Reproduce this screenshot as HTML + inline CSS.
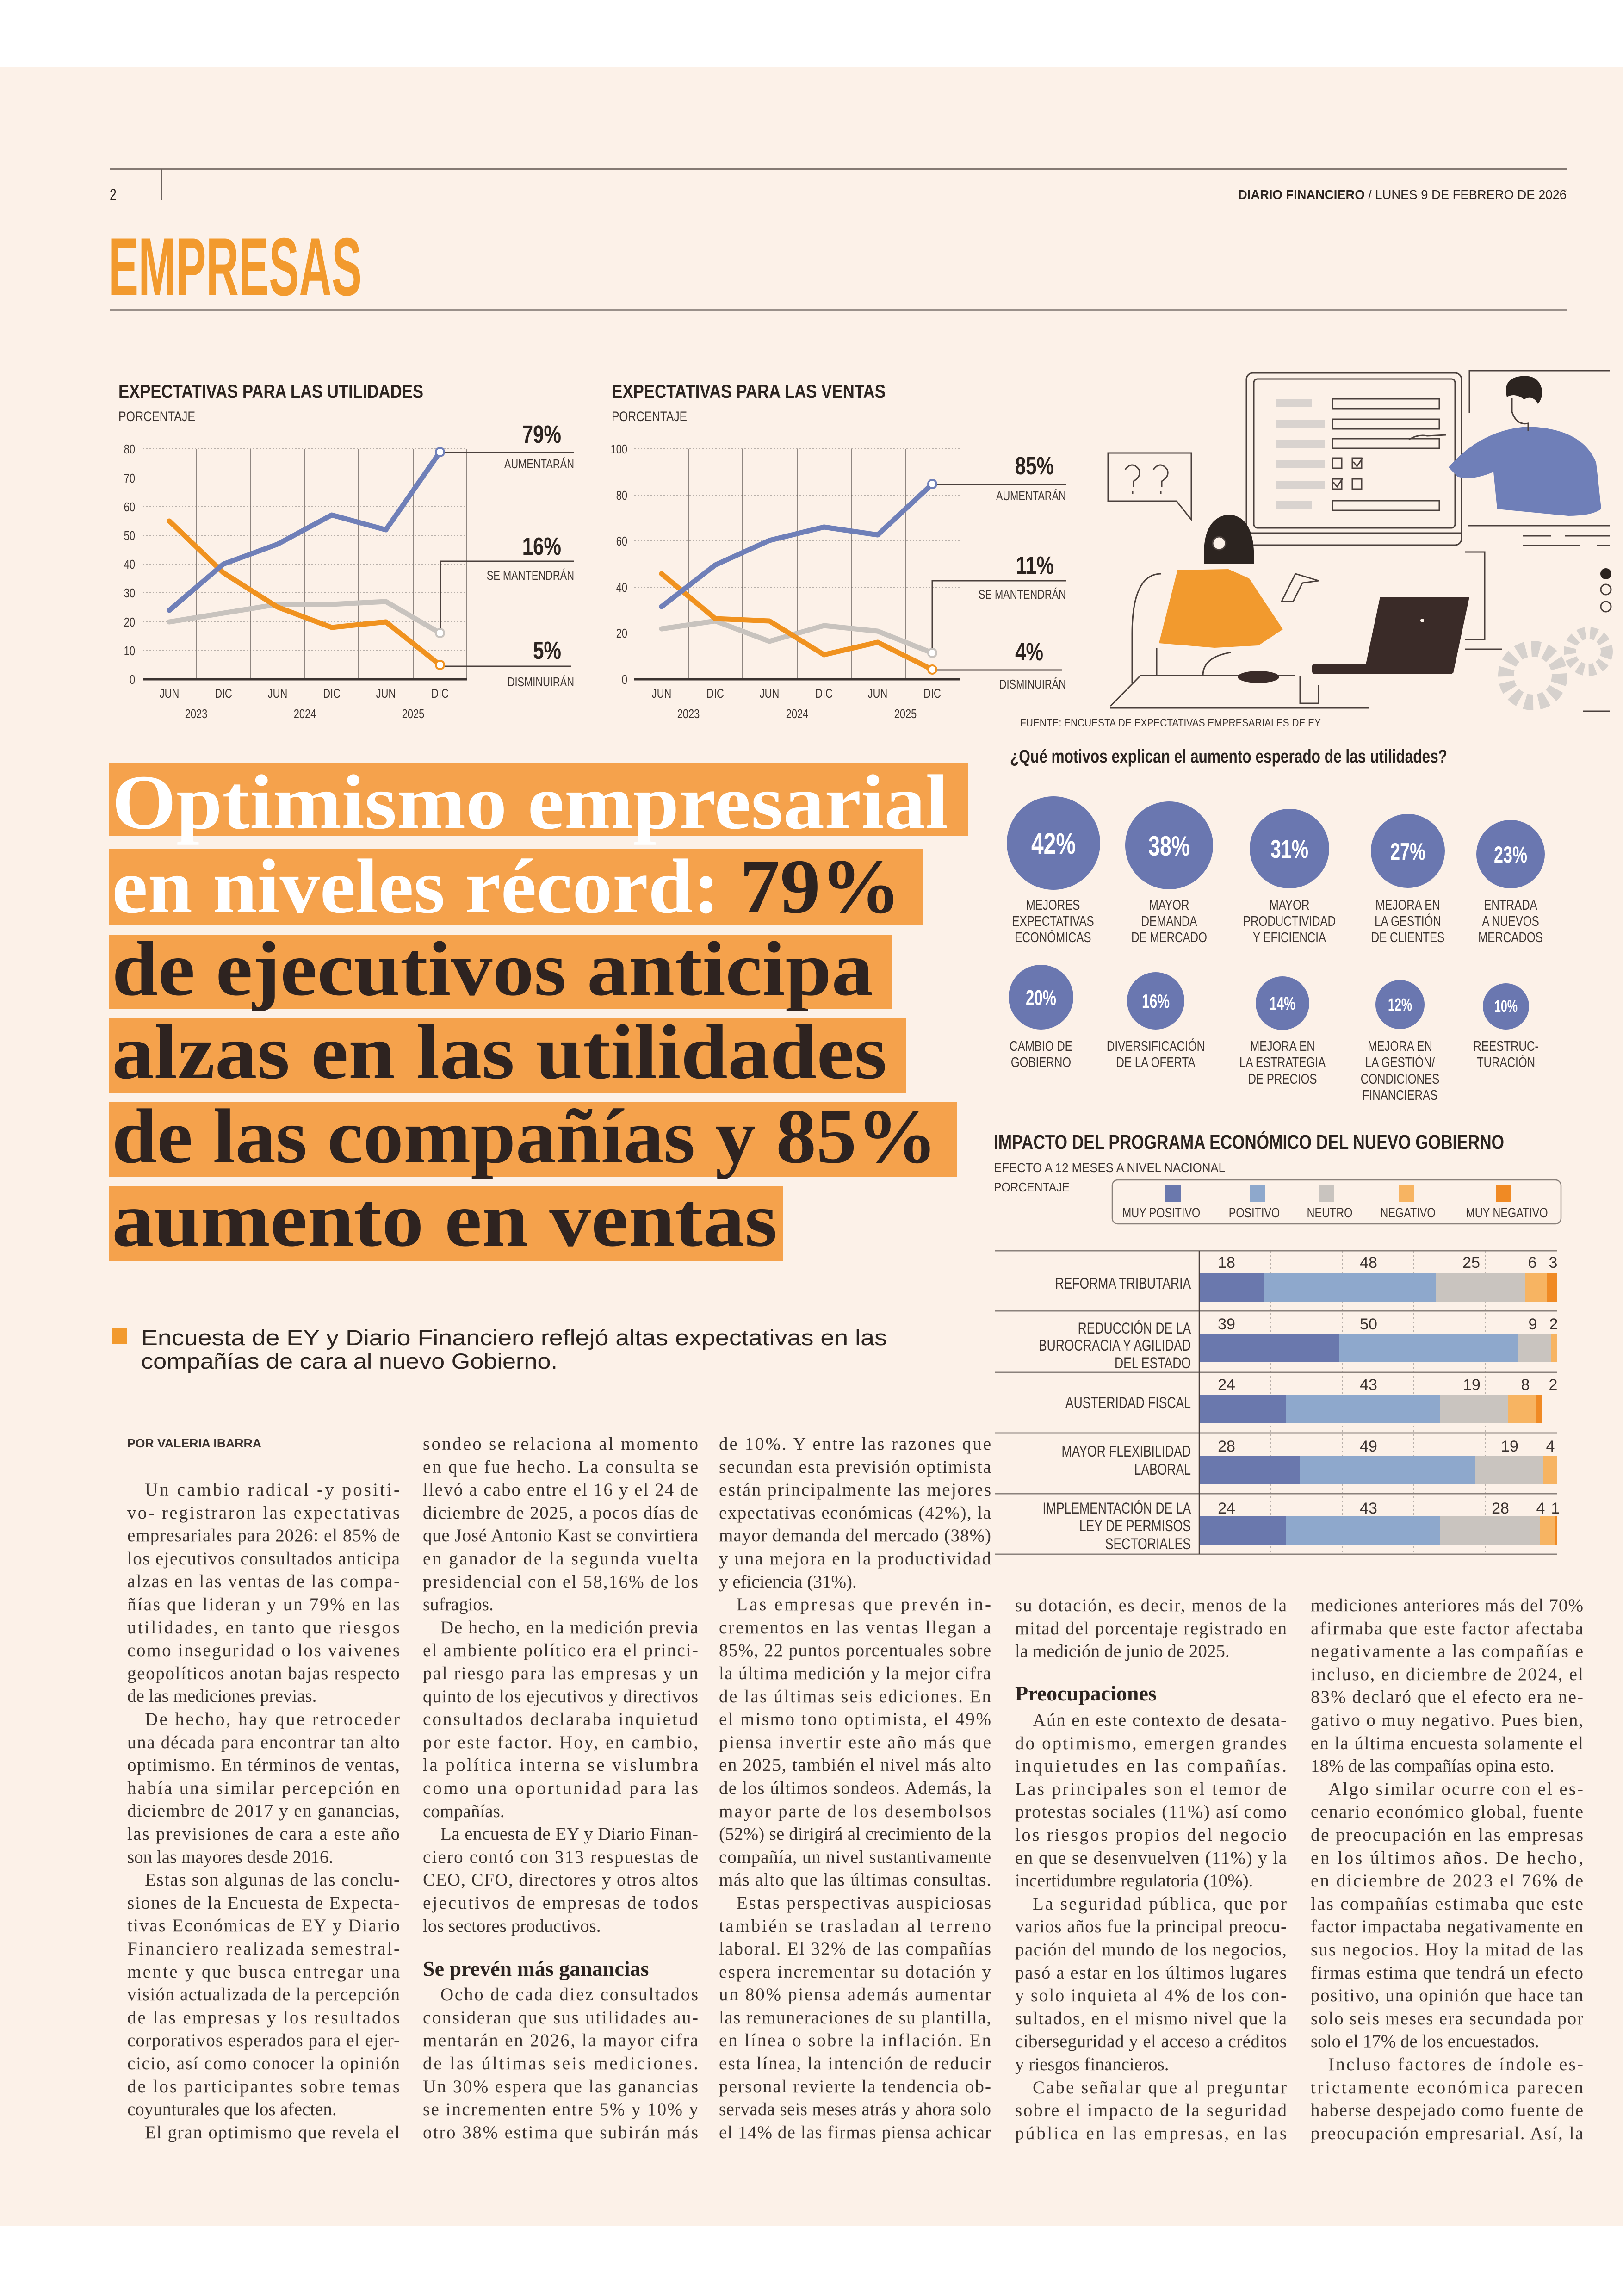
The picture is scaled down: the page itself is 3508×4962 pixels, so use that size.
<!DOCTYPE html>
<html><head><meta charset="utf-8">
<style>
html,body{margin:0;padding:0;background:#fff;}
svg{display:block;}
.s{font-family:"Liberation Sans",sans-serif;}
.b{font-family:"Liberation Serif",serif;font-size:39px;fill:#3b3330;}
.cm{transform-box:fill-box;transform-origin:center;transform:scaleX(.78);}
.cl{transform-box:fill-box;transform-origin:left;transform:scaleX(.78);}
.cr{transform-box:fill-box;transform-origin:right;transform:scaleX(.78);}
</style></head><body>
<svg width="3508" height="4962" viewBox="0 0 3508 4962" xmlns="http://www.w3.org/2000/svg">
<rect x="0" y="0" width="3508" height="4962" fill="#fff"/>
<rect x="0" y="145" width="3508" height="4665" fill="#fcf1e8"/>

<!-- header -->
<rect x="237" y="362" width="3149" height="5" fill="#857a73"/>
<line x1="350" y1="366" x2="350" y2="432" stroke="#6b625d" stroke-width="2"/>
<text x="237" y="432" class="s cl" font-size="34" fill="#2c2420">2</text>
<text x="3386" y="430" class="s" font-size="28" fill="#2c2420" text-anchor="end" textLength="710" lengthAdjust="spacingAndGlyphs"><tspan font-weight="bold">DIARIO FINANCIERO</tspan> / LUNES 9 DE FEBRERO DE 2026</text>
<text x="234" y="638" class="s" font-size="178" font-weight="bold" fill="#f29a2e" textLength="548" lengthAdjust="spacingAndGlyphs">EMPRESAS</text>
<rect x="237" y="668" width="3149" height="5" fill="#9a908a"/>

<!-- CHART 1 -->
<text x="256" y="860" class="s" font-size="42" font-weight="bold" fill="#2c2420" textLength="659" lengthAdjust="spacingAndGlyphs">EXPECTATIVAS PARA LAS UTILIDADES</text>
<text x="256" y="910" class="s" font-size="30" fill="#3b3330" textLength="166" lengthAdjust="spacingAndGlyphs">PORCENTAJE</text>
<g stroke="#b8b0aa" stroke-width="2" stroke-dasharray="3 4">
<line x1="309" y1="970" x2="1009" y2="970"/><line x1="309" y1="1033" x2="1009" y2="1033"/><line x1="309" y1="1095" x2="1009" y2="1095"/><line x1="309" y1="1157" x2="1009" y2="1157"/><line x1="309" y1="1219" x2="1009" y2="1219"/><line x1="309" y1="1281" x2="1009" y2="1281"/><line x1="309" y1="1344" x2="1009" y2="1344"/><line x1="309" y1="1406" x2="1009" y2="1406"/>
</g>
<g stroke="#6b625d" stroke-width="1.5">
<line x1="424" y1="970" x2="424" y2="1468"/><line x1="541" y1="970" x2="541" y2="1468"/><line x1="659" y1="970" x2="659" y2="1468"/><line x1="775" y1="970" x2="775" y2="1468"/><line x1="893" y1="970" x2="893" y2="1468"/><line x1="1009" y1="970" x2="1009" y2="1468"/>
</g>
<line x1="309" y1="1468" x2="1009" y2="1468" stroke="#3b3330" stroke-width="5"/>
<g class="s" font-size="28" fill="#3b3330" text-anchor="end">
<text x="292" y="980" class="cr">80</text><text x="292" y="1043" class="cr">70</text><text x="292" y="1105" class="cr">60</text><text x="292" y="1167" class="cr">50</text><text x="292" y="1229" class="cr">40</text><text x="292" y="1291" class="cr">30</text><text x="292" y="1354" class="cr">20</text><text x="292" y="1416" class="cr">10</text><text x="292" y="1478" class="cr">0</text>
</g>
<g class="s" font-size="28" fill="#3b3330" text-anchor="middle">
<text x="366" y="1508" class="cm">JUN</text><text x="483" y="1508" class="cm">DIC</text><text x="600" y="1508" class="cm">JUN</text><text x="717" y="1508" class="cm">DIC</text><text x="834" y="1508" class="cm">JUN</text><text x="951" y="1508" class="cm">DIC</text>
<text x="424" y="1552" class="cm">2023</text><text x="659" y="1552" class="cm">2024</text><text x="893" y="1552" class="cm">2025</text>
</g>
<g fill="none" stroke-width="11" stroke-linejoin="round" stroke-linecap="round">
<polyline stroke="#c8c3be" points="366,1344 483,1325 600,1306 717,1306 834,1300 951,1368"/>
<polyline stroke="#f0921f" points="366,1126 483,1238 600,1312 717,1356 834,1344 951,1437"/>
<polyline stroke="#6f7fb8" points="366,1319 483,1219 600,1176 717,1113 834,1145 951,977"/>
</g>
<g stroke="#4a403c" stroke-width="3" fill="none">
<polyline points="951,978 1241,978"/>
<polyline points="952,1368 952,1213 1241,1213"/>
<polyline points="951,1440 1235,1440"/>
</g>
<circle cx="951" cy="977" r="9" fill="#fff" stroke="#6f7fb8" stroke-width="4"/>
<circle cx="951" cy="1368" r="9" fill="#fff" stroke="#c8c3be" stroke-width="4"/>
<circle cx="951" cy="1437" r="9" fill="#fff" stroke="#f0921f" stroke-width="4"/>
<g class="s" font-weight="bold" fill="#2c2420" text-anchor="end">
<text x="1213" y="957" font-size="54" class="cr">79%</text>
<text x="1213" y="1199" font-size="54" class="cr">16%</text>
<text x="1213" y="1424" font-size="54" class="cr">5%</text>
</g>
<g class="s" font-size="28" fill="#3b3330" text-anchor="end">
<text x="1241" y="1012" class="cr">AUMENTARÁN</text>
<text x="1241" y="1253" class="cr">SE MANTENDRÁN</text>
<text x="1241" y="1483" class="cr">DISMINUIRÁN</text>
</g>

<!-- CHART 2 -->
<text x="1322" y="860" class="s" font-size="42" font-weight="bold" fill="#2c2420" textLength="592" lengthAdjust="spacingAndGlyphs">EXPECTATIVAS PARA LAS VENTAS</text>
<text x="1322" y="910" class="s" font-size="30" fill="#3b3330" textLength="163" lengthAdjust="spacingAndGlyphs">PORCENTAJE</text>
<g stroke="#b8b0aa" stroke-width="2" stroke-dasharray="3 4">
<line x1="1371" y1="970" x2="2075" y2="970"/><line x1="1371" y1="1070" x2="2075" y2="1070"/><line x1="1371" y1="1169" x2="2075" y2="1169"/><line x1="1371" y1="1269" x2="2075" y2="1269"/><line x1="1371" y1="1368" x2="2075" y2="1368"/>
</g>
<g stroke="#6b625d" stroke-width="1.5">
<line x1="1488" y1="970" x2="1488" y2="1468"/><line x1="1605" y1="970" x2="1605" y2="1468"/><line x1="1723" y1="970" x2="1723" y2="1468"/><line x1="1841" y1="970" x2="1841" y2="1468"/><line x1="1957" y1="970" x2="1957" y2="1468"/><line x1="2075" y1="970" x2="2075" y2="1468"/>
</g>
<line x1="1371" y1="1468" x2="2075" y2="1468" stroke="#3b3330" stroke-width="5"/>
<g class="s" font-size="28" fill="#3b3330" text-anchor="end">
<text x="1356" y="980" class="cr">100</text><text x="1356" y="1080" class="cr">80</text><text x="1356" y="1179" class="cr">60</text><text x="1356" y="1279" class="cr">40</text><text x="1356" y="1378" class="cr">20</text><text x="1356" y="1478" class="cr">0</text>
</g>
<g class="s" font-size="28" fill="#3b3330" text-anchor="middle">
<text x="1430" y="1508" class="cm">JUN</text><text x="1546" y="1508" class="cm">DIC</text><text x="1663" y="1508" class="cm">JUN</text><text x="1781" y="1508" class="cm">DIC</text><text x="1897" y="1508" class="cm">JUN</text><text x="2015" y="1508" class="cm">DIC</text>
<text x="1488" y="1552" class="cm">2023</text><text x="1723" y="1552" class="cm">2024</text><text x="1957" y="1552" class="cm">2025</text>
</g>
<g fill="none" stroke-width="11" stroke-linejoin="round" stroke-linecap="round">
<polyline stroke="#c8c3be" points="1430,1359 1546,1342 1663,1386 1781,1352 1897,1364 2015,1411"/>
<polyline stroke="#f0921f" points="1430,1240 1546,1337 1663,1342 1781,1415 1897,1388 2015,1447"/>
<polyline stroke="#6f7fb8" points="1430,1311 1546,1221 1663,1168 1781,1139 1897,1156 2015,1046"/>
</g>
<g stroke="#4a403c" stroke-width="3" fill="none">
<polyline points="2015,1047 2304,1047"/>
<polyline points="2015,1411 2015,1255 2304,1255"/>
<polyline points="2015,1448 2296,1448"/>
</g>
<circle cx="2015" cy="1046" r="9" fill="#fff" stroke="#6f7fb8" stroke-width="4"/>
<circle cx="2015" cy="1411" r="9" fill="#fff" stroke="#c8c3be" stroke-width="4"/>
<circle cx="2015" cy="1447" r="9" fill="#fff" stroke="#f0921f" stroke-width="4"/>
<g class="s" font-weight="bold" fill="#2c2420" text-anchor="end">
<text x="2278" y="1025" font-size="54" class="cr">85%</text>
<text x="2278" y="1240" font-size="54" class="cr">11%</text>
<text x="2255" y="1427" font-size="54" class="cr">4%</text>
</g>
<g class="s" font-size="28" fill="#3b3330" text-anchor="end">
<text x="2304" y="1081" class="cr">AUMENTARÁN</text>
<text x="2304" y="1294" class="cr">SE MANTENDRÁN</text>
<text x="2304" y="1488" class="cr">DISMINUIRÁN</text>
</g>

<!-- ILLUSTRATION -->
<g fill="none" stroke="#4a403c" stroke-width="3">
<rect x="2694" y="806" width="465" height="372" rx="14"/>
<rect x="2710" y="819" width="435" height="322" rx="8"/>
<line x1="2694" y1="1152" x2="3159" y2="1152"/>
<polyline points="3176,892 3176,801 3480,801"/>
<line x1="3172" y1="1136" x2="3480" y2="1136"/>
<line x1="3292" y1="1158" x2="3352" y2="1158"/><line x1="3382" y1="1158" x2="3480" y2="1158"/>
<line x1="3292" y1="1179" x2="3415" y2="1179"/><line x1="3452" y1="1179" x2="3480" y2="1179"/>
<polyline points="3167,1193 3209,1193 3209,1382 3167,1382"/>
<line x1="3167" y1="1403" x2="3247" y2="1403"/>
<line x1="3422" y1="1537" x2="3480" y2="1537"/>
<path d="M2395 979 H2575 V1123 L2543 1083 H2395 Z"/>
<path d="M2432 1015 q15 -20 30 0 q5 15 -12 25 v12 M2448 1062 v6"/>
<path d="M2493 1015 q15 -20 30 0 q5 15 -12 25 v12 M2509 1062 v6"/>
<rect x="2880" y="862" width="231" height="21"/><rect x="2880" y="906" width="231" height="21"/><rect x="2880" y="948" width="231" height="21"/><rect x="2880" y="1082" width="231" height="21"/>
<rect x="2880" y="990" width="20" height="22"/><rect x="2923" y="990" width="20" height="22"/>
<rect x="2880" y="1035" width="20" height="22"/><rect x="2923" y="1035" width="20" height="22"/>
<path d="M2925 998 l8 10 l12 -18 M2882 1042 l8 10 l12 -18"/>
<path d="M2447 1475 V1370 Q2447 1240 2510 1240 M2400 1526 L2465 1460 H2800 M2810 1460 v60 h40 v-40 M2500 1460 v-60 M2600 1460 q0 -40 60 -50 M2770 1300 l30 -60 l50 15 -35 5 l-20 40 Z"/>
<line x1="2400" y1="1530" x2="2960" y2="1530"/>
</g>
<g fill="#d9d3cf">
<rect x="2759" y="862" width="76" height="18"/><rect x="2759" y="907" width="105" height="18"/><rect x="2759" y="950" width="105" height="18"/><rect x="2759" y="994" width="105" height="18"/><rect x="2759" y="1039" width="105" height="18"/><rect x="2759" y="1083" width="76" height="18"/>
</g>
<path d="M3131 1010 Q3200 930 3300 922 Q3420 925 3450 1000 L3461 1100 Q3440 1115 3390 1115 L3236 1100 L3228 1020 Q3180 1040 3150 1030 Z" fill="#6f7fb8"/>
<path d="M3257 858 q-10 -40 30 -45 q45 -5 47 40 q-5 15 -10 20 q-10 -20 -30 -10 q-20 -15 -37 -5Z" fill="#2c2420"/>
<path d="M3268 860 v30 q10 30 35 25 v16" fill="none" stroke="#4a403c" stroke-width="3"/>
<path d="M3045 950 q20 -12 40 -8 l40 -2" fill="none" stroke="#4a403c" stroke-width="3"/>
<path d="M2603 1219 Q2595 1120 2655 1112 Q2715 1115 2710 1219 Z" fill="#2c2420"/>
<circle cx="2635" cy="1174" r="14" fill="#fcf1e8" stroke="#4a403c" stroke-width="3"/>
<path d="M2545 1232 L2655 1230 L2700 1250 L2773 1360 L2720 1395 L2625 1400 L2505 1390 Z" fill="#f29a2e"/>
<path d="M2983 1290 H3176 L3141 1455 H2948 Z" fill="#3a2b28"/>
<rect x="2836" y="1434" width="305" height="23" rx="6" fill="#3a2b28"/>
<ellipse cx="2720" cy="1463" rx="45" ry="13" fill="#3a2b28"/>
<circle cx="3074" cy="1341" r="4" fill="#fcf1e8"/>
<circle cx="3471" cy="1240" r="12" fill="#2c2420"/>
<circle cx="3471" cy="1274" r="11" fill="none" stroke="#4a403c" stroke-width="3"/>
<circle cx="3471" cy="1311" r="11" fill="none" stroke="#4a403c" stroke-width="3"/>
<circle cx="3313" cy="1460" r="58" fill="none" stroke="#d6d1cd" stroke-width="34" stroke-dasharray="18 12"/>
<circle cx="3433" cy="1408" r="40" fill="none" stroke="#d6d1cd" stroke-width="26" stroke-dasharray="14 10"/>
<text x="2205" y="1570" class="s" font-size="24" fill="#3b3330" textLength="650" lengthAdjust="spacingAndGlyphs">FUENTE: ENCUESTA DE EXPECTATIVAS EMPRESARIALES DE EY</text>

<!-- MOTIVOS -->
<text x="2183" y="1648" class="s" font-size="40" font-weight="bold" fill="#2c2420" textLength="945" lengthAdjust="spacingAndGlyphs">¿Qué motivos explican el aumento esperado de las utilidades?</text>
<g fill="#6a77b0">
<circle cx="2277" cy="1822" r="101"/><circle cx="2527" cy="1827" r="95"/><circle cx="2787" cy="1834" r="86"/><circle cx="3043" cy="1839" r="80"/><circle cx="3265" cy="1846" r="74"/>
<circle cx="2250" cy="2155" r="70"/><circle cx="2498" cy="2163" r="62"/><circle cx="2772" cy="2168" r="58"/><circle cx="3026" cy="2171" r="53"/><circle cx="3255" cy="2175" r="50"/>
</g>
<g class="s" font-weight="bold" fill="#fff" text-anchor="middle">
<text x="2277" y="1845" font-size="64" textLength="96" lengthAdjust="spacingAndGlyphs">42%</text>
<text x="2527" y="1849" font-size="60" textLength="90" lengthAdjust="spacingAndGlyphs">38%</text>
<text x="2787" y="1854" font-size="56" textLength="82" lengthAdjust="spacingAndGlyphs">31%</text>
<text x="3043" y="1858" font-size="52" textLength="76" lengthAdjust="spacingAndGlyphs">27%</text>
<text x="3265" y="1864" font-size="50" textLength="72" lengthAdjust="spacingAndGlyphs">23%</text>
<text x="2250" y="2172" font-size="46" textLength="66" lengthAdjust="spacingAndGlyphs">20%</text>
<text x="2498" y="2178" font-size="42" textLength="60" lengthAdjust="spacingAndGlyphs">16%</text>
<text x="2772" y="2182" font-size="40" textLength="56" lengthAdjust="spacingAndGlyphs">14%</text>
<text x="3026" y="2184" font-size="38" textLength="52" lengthAdjust="spacingAndGlyphs">12%</text>
<text x="3255" y="2187" font-size="36" textLength="50" lengthAdjust="spacingAndGlyphs">10%</text>
</g>
<g class="s" font-size="31" fill="#3b3330" text-anchor="middle">
<text x="2276" y="1966" class="cm">MEJORES</text><text x="2276" y="2001" class="cm">EXPECTATIVAS</text><text x="2276" y="2036" class="cm">ECONÓMICAS</text>
<text x="2527" y="1966" class="cm">MAYOR</text><text x="2527" y="2001" class="cm">DEMANDA</text><text x="2527" y="2036" class="cm">DE MERCADO</text>
<text x="2787" y="1966" class="cm">MAYOR</text><text x="2787" y="2001" class="cm">PRODUCTIVIDAD</text><text x="2787" y="2036" class="cm">Y EFICIENCIA</text>
<text x="3043" y="1966" class="cm">MEJORA EN</text><text x="3043" y="2001" class="cm">LA GESTIÓN</text><text x="3043" y="2036" class="cm">DE CLIENTES</text>
<text x="3265" y="1966" class="cm">ENTRADA</text><text x="3265" y="2001" class="cm">A NUEVOS</text><text x="3265" y="2036" class="cm">MERCADOS</text>
<text x="2250" y="2271" class="cm">CAMBIO DE</text><text x="2250" y="2306" class="cm">GOBIERNO</text>
<text x="2498" y="2271" class="cm">DIVERSIFICACIÓN</text><text x="2498" y="2306" class="cm">DE LA OFERTA</text>
<text x="2772" y="2271" class="cm">MEJORA EN</text><text x="2772" y="2306" class="cm">LA ESTRATEGIA</text><text x="2772" y="2342" class="cm">DE PRECIOS</text>
<text x="3026" y="2271" class="cm">MEJORA EN</text><text x="3026" y="2306" class="cm">LA GESTIÓN/</text><text x="3026" y="2342" class="cm">CONDICIONES</text><text x="3026" y="2377" class="cm">FINANCIERAS</text>
<text x="3255" y="2271" class="cm">REESTRUC-</text><text x="3255" y="2306" class="cm">TURACIÓN</text>
</g>

<!-- BAR CHART -->
<text x="2148" y="2483" class="s" font-size="44" font-weight="bold" fill="#2c2420" textLength="1103" lengthAdjust="spacingAndGlyphs">IMPACTO DEL PROGRAMA ECONÓMICO DEL NUEVO GOBIERNO</text>
<text x="2148" y="2533" class="s" font-size="28" fill="#3b3330" textLength="500" lengthAdjust="spacingAndGlyphs">EFECTO A 12 MESES A NIVEL NACIONAL</text>
<text x="2148" y="2575" class="s" font-size="28" fill="#3b3330" textLength="164" lengthAdjust="spacingAndGlyphs">PORCENTAJE</text>
<rect x="2404" y="2550" width="970" height="95" rx="12" fill="none" stroke="#8a817b" stroke-width="2.5"/>
<rect x="2519" y="2562" width="33" height="35" fill="#6a78ad"/>
<rect x="2702" y="2562" width="33" height="35" fill="#8ea8cc"/>
<rect x="2851" y="2562" width="33" height="35" fill="#c9c4bf"/>
<rect x="3023" y="2562" width="33" height="35" fill="#f7b462"/>
<rect x="3234" y="2562" width="33" height="35" fill="#f08a24"/>
<g class="s" font-size="30" fill="#3b3330" text-anchor="middle">
<text x="2510" y="2631" class="cm">MUY POSITIVO</text><text x="2711" y="2631" class="cm">POSITIVO</text><text x="2874" y="2631" class="cm">NEUTRO</text><text x="3043" y="2631" class="cm">NEGATIVO</text><text x="3257" y="2631" class="cm">MUY NEGATIVO</text>
</g>
<g stroke="#b8b0aa" stroke-width="2" stroke-dasharray="4 5">
<line x1="2747" y1="2703" x2="2747" y2="3359"/><line x1="2902" y1="2703" x2="2902" y2="3359"/><line x1="3056" y1="2703" x2="3056" y2="3359"/><line x1="3211" y1="2703" x2="3211" y2="3359"/>
</g>
<g stroke="#8a817b" stroke-width="3">
<line x1="2150" y1="2703" x2="3366" y2="2703"/><line x1="2150" y1="2833" x2="3366" y2="2833"/><line x1="2150" y1="2966" x2="3366" y2="2966"/><line x1="2150" y1="3097" x2="3366" y2="3097"/><line x1="2150" y1="3228" x2="3366" y2="3228"/><line x1="2150" y1="3359" x2="3366" y2="3359"/>
</g>
<line x1="2592" y1="2703" x2="2592" y2="3359" stroke="#4a403c" stroke-width="2.5"/>
<!-- row1 18 48 25 6 3 -->
<rect x="2593" y="2752" width="139" height="61" fill="#6a78ad"/><rect x="2732" y="2752" width="372" height="61" fill="#8ea8cc"/><rect x="3104" y="2752" width="193" height="61" fill="#c9c4bf"/><rect x="3297" y="2752" width="46" height="61" fill="#f7b462"/><rect x="3343" y="2752" width="23" height="61" fill="#f08a24"/>
<!-- row2 39 50 9 2 -->
<rect x="2593" y="2882" width="302" height="61" fill="#6a78ad"/><rect x="2895" y="2882" width="387" height="61" fill="#8ea8cc"/><rect x="3282" y="2882" width="70" height="61" fill="#c9c4bf"/><rect x="3352" y="2882" width="14" height="61" fill="#f7b462"/>
<!-- row3 24 43 19 8 2 -->
<rect x="2593" y="3015" width="186" height="61" fill="#6a78ad"/><rect x="2779" y="3015" width="333" height="61" fill="#8ea8cc"/><rect x="3112" y="3015" width="147" height="61" fill="#c9c4bf"/><rect x="3259" y="3015" width="62" height="61" fill="#f7b462"/><rect x="3321" y="3015" width="12" height="61" fill="#f08a24"/>
<!-- row4 28 49 19 4 -->
<rect x="2593" y="3146" width="217" height="61" fill="#6a78ad"/><rect x="2810" y="3146" width="379" height="61" fill="#8ea8cc"/><rect x="3189" y="3146" width="147" height="61" fill="#c9c4bf"/><rect x="3336" y="3146" width="30" height="61" fill="#f7b462"/>
<!-- row5 24 43 28 4 1 -->
<rect x="2593" y="3277" width="186" height="61" fill="#6a78ad"/><rect x="2779" y="3277" width="333" height="61" fill="#8ea8cc"/><rect x="3112" y="3277" width="217" height="61" fill="#c9c4bf"/><rect x="3329" y="3277" width="31" height="61" fill="#f7b462"/><rect x="3360" y="3277" width="6" height="61" fill="#f08a24"/>
<g class="s" font-size="34" fill="#3b3330" text-anchor="middle">
<text x="2651" y="2740">18</text><text x="2958" y="2740">48</text><text x="3180" y="2740">25</text><text x="3312" y="2740">6</text><text x="3357" y="2740">3</text>
<text x="2651" y="2873">39</text><text x="2958" y="2873">50</text><text x="3313" y="2873">9</text><text x="3358" y="2873">2</text>
<text x="2651" y="3004">24</text><text x="2958" y="3004">43</text><text x="3181" y="3004">19</text><text x="3297" y="3004">8</text><text x="3357" y="3004">2</text>
<text x="2651" y="3137">28</text><text x="2958" y="3137">49</text><text x="3263" y="3137">19</text><text x="3351" y="3137">4</text>
<text x="2651" y="3271">24</text><text x="2958" y="3271">43</text><text x="3243" y="3271">28</text><text x="3330" y="3271">4</text><text x="3362" y="3271">1</text>
</g>
<g class="s" font-size="34" fill="#3b3330" text-anchor="end">
<text x="2574" y="2785" class="cr">REFORMA TRIBUTARIA</text>
<text x="2574" y="2882" class="cr">REDUCCIÓN DE LA</text><text x="2574" y="2919" class="cr">BUROCRACIA Y AGILIDAD</text><text x="2574" y="2957" class="cr">DEL ESTADO</text>
<text x="2574" y="3043" class="cr">AUSTERIDAD FISCAL</text>
<text x="2574" y="3148" class="cr">MAYOR FLEXIBILIDAD</text><text x="2574" y="3187" class="cr">LABORAL</text>
<text x="2574" y="3271" class="cr">IMPLEMENTACIÓN DE LA</text><text x="2574" y="3309" class="cr">LEY DE PERMISOS</text><text x="2574" y="3348" class="cr">SECTORIALES</text>
</g>

<!-- HEADLINE -->
<g fill="#f5a24c">
<rect x="235" y="1650" width="1858" height="157"/>
<rect x="235" y="1835" width="1761" height="164"/>
<rect x="235" y="2020" width="1694" height="160"/>
<rect x="235" y="2200" width="1724" height="162"/>
<rect x="235" y="2382" width="1833" height="162"/>
<rect x="235" y="2563" width="1458" height="162"/>
</g>
<g font-family="'Liberation Serif',serif" font-size="168" font-weight="bold">
<text x="242" y="1790" fill="#fff" textLength="1808" lengthAdjust="spacingAndGlyphs">Optimismo empresarial</text>
<text x="242" y="1972" fill="#fff" textLength="1705" lengthAdjust="spacingAndGlyphs">en niveles récord: <tspan fill="#2e2320">79%</tspan></text>
<text x="242" y="2150" fill="#2e2320" textLength="1645" lengthAdjust="spacingAndGlyphs">de ejecutivos anticipa</text>
<text x="242" y="2330" fill="#2e2320" textLength="1675" lengthAdjust="spacingAndGlyphs">alzas en las utilidades</text>
<text x="242" y="2512" fill="#2e2320" textLength="1784" lengthAdjust="spacingAndGlyphs">de las compañías y 85%</text>
<text x="242" y="2692" fill="#2e2320" textLength="1438" lengthAdjust="spacingAndGlyphs">aumento en ventas</text>
</g>
<rect x="242" y="2870" width="33" height="35" fill="#f29a2e"/>
<g class="s" font-size="47" fill="#2c2420">
<text x="305" y="2907" textLength="1612" lengthAdjust="spacingAndGlyphs">Encuesta de EY y Diario Financiero reflejó altas expectativas en las</text>
<text x="305" y="2958" textLength="900" lengthAdjust="spacingAndGlyphs">compañías de cara al nuevo Gobierno.</text>
</g>

<!-- BODY -->
<text x="275" y="3128" class="s" font-size="26" font-weight="bold" fill="#3b3330" textLength="290" lengthAdjust="spacingAndGlyphs">POR VALERIA IBARRA</text>
<g class="b">
<text x="313" y="3232" textLength="551" lengthAdjust="spacing">Un cambio radical -y positi-</text>
<text x="275" y="3282" textLength="589" lengthAdjust="spacing">vo- registraron las expectativas</text>
<text x="275" y="3331" textLength="589" lengthAdjust="spacing">empresariales para 2026: el 85% de</text>
<text x="275" y="3381" textLength="589" lengthAdjust="spacing">los ejecutivos consultados anticipa</text>
<text x="275" y="3430" textLength="589" lengthAdjust="spacing">alzas en las ventas de las compa-</text>
<text x="275" y="3480" textLength="589" lengthAdjust="spacing">ñías que lideran y un 79% en las</text>
<text x="275" y="3530" textLength="589" lengthAdjust="spacing">utilidades, en tanto que riesgos</text>
<text x="275" y="3579" textLength="589" lengthAdjust="spacing">como inseguridad o los vaivenes</text>
<text x="275" y="3629" textLength="589" lengthAdjust="spacing">geopolíticos anotan bajas respecto</text>
<text x="275" y="3678">de las mediciones previas.</text>
<text x="313" y="3728" textLength="551" lengthAdjust="spacing">De hecho, hay que retroceder</text>
<text x="275" y="3778" textLength="589" lengthAdjust="spacing">una década para encontrar tan alto</text>
<text x="275" y="3827" textLength="589" lengthAdjust="spacing">optimismo. En términos de ventas,</text>
<text x="275" y="3877" textLength="589" lengthAdjust="spacing">había una similar percepción en</text>
<text x="275" y="3926" textLength="589" lengthAdjust="spacing">diciembre de 2017 y en ganancias,</text>
<text x="275" y="3976" textLength="589" lengthAdjust="spacing">las previsiones de cara a este año</text>
<text x="275" y="4026">son las mayores desde 2016.</text>
<text x="313" y="4075" textLength="551" lengthAdjust="spacing">Estas son algunas de las conclu-</text>
<text x="275" y="4125" textLength="589" lengthAdjust="spacing">siones de la Encuesta de Expecta-</text>
<text x="275" y="4174" textLength="589" lengthAdjust="spacing">tivas Económicas de EY y Diario</text>
<text x="275" y="4224" textLength="589" lengthAdjust="spacing">Financiero realizada semestral-</text>
<text x="275" y="4274" textLength="589" lengthAdjust="spacing">mente y que busca entregar una</text>
<text x="275" y="4323" textLength="589" lengthAdjust="spacing">visión actualizada de la percepción</text>
<text x="275" y="4373" textLength="589" lengthAdjust="spacing">de las empresas y los resultados</text>
<text x="275" y="4422" textLength="589" lengthAdjust="spacing">corporativos esperados para el ejer-</text>
<text x="275" y="4472" textLength="589" lengthAdjust="spacing">cicio, así como conocer la opinión</text>
<text x="275" y="4522" textLength="589" lengthAdjust="spacing">de los participantes sobre temas</text>
<text x="275" y="4571">coyunturales que los afecten.</text>
<text x="313" y="4621" textLength="551" lengthAdjust="spacing">El gran optimismo que revela el</text>

<text x="914" y="3133" textLength="595" lengthAdjust="spacing">sondeo se relaciona al momento</text>
<text x="914" y="3183" textLength="595" lengthAdjust="spacing">en que fue hecho. La consulta se</text>
<text x="914" y="3232" textLength="595" lengthAdjust="spacing">llevó a cabo entre el 16 y el 24 de</text>
<text x="914" y="3282" textLength="595" lengthAdjust="spacing">diciembre de 2025, a pocos días de</text>
<text x="914" y="3331" textLength="595" lengthAdjust="spacing">que José Antonio Kast se convirtiera</text>
<text x="914" y="3381" textLength="595" lengthAdjust="spacing">en ganador de la segunda vuelta</text>
<text x="914" y="3431" textLength="595" lengthAdjust="spacing">presidencial con el 58,16% de los</text>
<text x="914" y="3480">sufragios.</text>
<text x="952" y="3530" textLength="557" lengthAdjust="spacing">De hecho, en la medición previa</text>
<text x="914" y="3579" textLength="595" lengthAdjust="spacing">el ambiente político era el princi-</text>
<text x="914" y="3629" textLength="595" lengthAdjust="spacing">pal riesgo para las empresas y un</text>
<text x="914" y="3679" textLength="595" lengthAdjust="spacing">quinto de los ejecutivos y directivos</text>
<text x="914" y="3728" textLength="595" lengthAdjust="spacing">consultados declaraba inquietud</text>
<text x="914" y="3778" textLength="595" lengthAdjust="spacing">por este factor. Hoy, en cambio,</text>
<text x="914" y="3827" textLength="595" lengthAdjust="spacing">la política interna se vislumbra</text>
<text x="914" y="3877" textLength="595" lengthAdjust="spacing">como una oportunidad para las</text>
<text x="914" y="3927">compañías.</text>
<text x="952" y="3976" textLength="557" lengthAdjust="spacing">La encuesta de EY y Diario Finan-</text>
<text x="914" y="4026" textLength="595" lengthAdjust="spacing">ciero contó con 313 respuestas de</text>
<text x="914" y="4075" textLength="595" lengthAdjust="spacing">CEO, CFO, directores y otros altos</text>
<text x="914" y="4125" textLength="595" lengthAdjust="spacing">ejecutivos de empresas de todos</text>
<text x="914" y="4175">los sectores productivos.</text>
<text x="914" y="4270" font-size="46" font-weight="bold" fill="#2c2420">Se prevén más ganancias</text>
<text x="952" y="4323" textLength="557" lengthAdjust="spacing">Ocho de cada diez consultados</text>
<text x="914" y="4373" textLength="595" lengthAdjust="spacing">consideran que sus utilidades au-</text>
<text x="914" y="4422" textLength="595" lengthAdjust="spacing">mentarán en 2026, la mayor cifra</text>
<text x="914" y="4472" textLength="595" lengthAdjust="spacing">de las últimas seis mediciones.</text>
<text x="914" y="4522" textLength="595" lengthAdjust="spacing">Un 30% espera que las ganancias</text>
<text x="914" y="4571" textLength="595" lengthAdjust="spacing">se incrementen entre 5% y 10% y</text>
<text x="914" y="4621" textLength="595" lengthAdjust="spacing">otro 38% estima que subirán más</text>

<text x="1554" y="3133" textLength="588" lengthAdjust="spacing">de 10%. Y entre las razones que</text>
<text x="1554" y="3183" textLength="588" lengthAdjust="spacing">secundan esta previsión optimista</text>
<text x="1554" y="3232" textLength="588" lengthAdjust="spacing">están principalmente las mejores</text>
<text x="1554" y="3282" textLength="588" lengthAdjust="spacing">expectativas económicas (42%), la</text>
<text x="1554" y="3331" textLength="588" lengthAdjust="spacing">mayor demanda del mercado (38%)</text>
<text x="1554" y="3381" textLength="588" lengthAdjust="spacing">y una mejora en la productividad</text>
<text x="1554" y="3431">y eficiencia (31%).</text>
<text x="1592" y="3480" textLength="550" lengthAdjust="spacing">Las empresas que prevén in-</text>
<text x="1554" y="3530" textLength="588" lengthAdjust="spacing">crementos en las ventas llegan a</text>
<text x="1554" y="3579" textLength="588" lengthAdjust="spacing">85%, 22 puntos porcentuales sobre</text>
<text x="1554" y="3629" textLength="588" lengthAdjust="spacing">la última medición y la mejor cifra</text>
<text x="1554" y="3679" textLength="588" lengthAdjust="spacing">de las últimas seis ediciones. En</text>
<text x="1554" y="3728" textLength="588" lengthAdjust="spacing">el mismo tono optimista, el 49%</text>
<text x="1554" y="3778" textLength="588" lengthAdjust="spacing">piensa invertir este año más que</text>
<text x="1554" y="3827" textLength="588" lengthAdjust="spacing">en 2025, también el nivel más alto</text>
<text x="1554" y="3877" textLength="588" lengthAdjust="spacing">de los últimos sondeos. Además, la</text>
<text x="1554" y="3927" textLength="588" lengthAdjust="spacing">mayor parte de los desembolsos</text>
<text x="1554" y="3976" textLength="588" lengthAdjust="spacing">(52%) se dirigirá al crecimiento de la</text>
<text x="1554" y="4026" textLength="588" lengthAdjust="spacing">compañía, un nivel sustantivamente</text>
<text x="1554" y="4075" textLength="588" lengthAdjust="spacing">más alto que las últimas consultas.</text>
<text x="1592" y="4125" textLength="550" lengthAdjust="spacing">Estas perspectivas auspiciosas</text>
<text x="1554" y="4175" textLength="588" lengthAdjust="spacing">también se trasladan al terreno</text>
<text x="1554" y="4224" textLength="588" lengthAdjust="spacing">laboral. El 32% de las compañías</text>
<text x="1554" y="4274" textLength="588" lengthAdjust="spacing">espera incrementar su dotación y</text>
<text x="1554" y="4323" textLength="588" lengthAdjust="spacing">un 80% piensa además aumentar</text>
<text x="1554" y="4373" textLength="588" lengthAdjust="spacing">las remuneraciones de su plantilla,</text>
<text x="1554" y="4422" textLength="588" lengthAdjust="spacing">en línea o sobre la inflación. En</text>
<text x="1554" y="4472" textLength="588" lengthAdjust="spacing">esta línea, la intención de reducir</text>
<text x="1554" y="4522" textLength="588" lengthAdjust="spacing">personal revierte la tendencia ob-</text>
<text x="1554" y="4571" textLength="588" lengthAdjust="spacing">servada seis meses atrás y ahora solo</text>
<text x="1554" y="4621" textLength="588" lengthAdjust="spacing">el 14% de las firmas piensa achicar</text>

<text x="2194" y="3482" textLength="587" lengthAdjust="spacing">su dotación, es decir, menos de la</text>
<text x="2194" y="3532" textLength="587" lengthAdjust="spacing">mitad del porcentaje registrado en</text>
<text x="2194" y="3581">la medición de junio de 2025.</text>
<text x="2194" y="3675" font-size="46" font-weight="bold" fill="#2c2420">Preocupaciones</text>
<text x="2232" y="3730" textLength="549" lengthAdjust="spacing">Aún en este contexto de desata-</text>
<text x="2194" y="3780" textLength="587" lengthAdjust="spacing">do optimismo, emergen grandes</text>
<text x="2194" y="3829" textLength="587" lengthAdjust="spacing">inquietudes en las compañías.</text>
<text x="2194" y="3879" textLength="587" lengthAdjust="spacing">Las principales son el temor de</text>
<text x="2194" y="3928" textLength="587" lengthAdjust="spacing">protestas sociales (11%) así como</text>
<text x="2194" y="3978" textLength="587" lengthAdjust="spacing">los riesgos propios del negocio</text>
<text x="2194" y="4028" textLength="587" lengthAdjust="spacing">en que se desenvuelven (11%) y la</text>
<text x="2194" y="4077">incertidumbre regulatoria (10%).</text>
<text x="2232" y="4127" textLength="549" lengthAdjust="spacing">La seguridad pública, que por</text>
<text x="2194" y="4176" textLength="587" lengthAdjust="spacing">varios años fue la principal preocu-</text>
<text x="2194" y="4226" textLength="587" lengthAdjust="spacing">pación del mundo de los negocios,</text>
<text x="2194" y="4276" textLength="587" lengthAdjust="spacing">pasó a estar en los últimos lugares</text>
<text x="2194" y="4325" textLength="587" lengthAdjust="spacing">y solo inquieta al 4% de los con-</text>
<text x="2194" y="4375" textLength="587" lengthAdjust="spacing">sultados, en el mismo nivel que la</text>
<text x="2194" y="4424" textLength="587" lengthAdjust="spacing">ciberseguridad y el acceso a créditos</text>
<text x="2194" y="4474">y riesgos financieros.</text>
<text x="2232" y="4524" textLength="549" lengthAdjust="spacing">Cabe señalar que al preguntar</text>
<text x="2194" y="4573" textLength="587" lengthAdjust="spacing">sobre el impacto de la seguridad</text>
<text x="2194" y="4623" textLength="587" lengthAdjust="spacing">pública en las empresas, en las</text>

<text x="2833" y="3482" textLength="589" lengthAdjust="spacing">mediciones anteriores más del 70%</text>
<text x="2833" y="3532" textLength="589" lengthAdjust="spacing">afirmaba que este factor afectaba</text>
<text x="2833" y="3581" textLength="589" lengthAdjust="spacing">negativamente a las compañías e</text>
<text x="2833" y="3631" textLength="589" lengthAdjust="spacing">incluso, en diciembre de 2024, el</text>
<text x="2833" y="3680" textLength="589" lengthAdjust="spacing">83% declaró que el efecto era ne-</text>
<text x="2833" y="3730" textLength="589" lengthAdjust="spacing">gativo o muy negativo. Pues bien,</text>
<text x="2833" y="3780" textLength="589" lengthAdjust="spacing">en la última encuesta solamente el</text>
<text x="2833" y="3829">18% de las compañías opina esto.</text>
<text x="2871" y="3879" textLength="551" lengthAdjust="spacing">Algo similar ocurre con el es-</text>
<text x="2833" y="3928" textLength="589" lengthAdjust="spacing">cenario económico global, fuente</text>
<text x="2833" y="3978" textLength="589" lengthAdjust="spacing">de preocupación en las empresas</text>
<text x="2833" y="4028" textLength="589" lengthAdjust="spacing">en los últimos años. De hecho,</text>
<text x="2833" y="4077" textLength="589" lengthAdjust="spacing">en diciembre de 2023 el 76% de</text>
<text x="2833" y="4127" textLength="589" lengthAdjust="spacing">las compañías estimaba que este</text>
<text x="2833" y="4176" textLength="589" lengthAdjust="spacing">factor impactaba negativamente en</text>
<text x="2833" y="4226" textLength="589" lengthAdjust="spacing">sus negocios. Hoy la mitad de las</text>
<text x="2833" y="4276" textLength="589" lengthAdjust="spacing">firmas estima que tendrá un efecto</text>
<text x="2833" y="4325" textLength="589" lengthAdjust="spacing">positivo, una opinión que hace tan</text>
<text x="2833" y="4375" textLength="589" lengthAdjust="spacing">solo seis meses era secundada por</text>
<text x="2833" y="4424">solo el 17% de los encuestados.</text>
<text x="2871" y="4474" textLength="551" lengthAdjust="spacing">Incluso factores de índole es-</text>
<text x="2833" y="4524" textLength="589" lengthAdjust="spacing">trictamente económica parecen</text>
<text x="2833" y="4573" textLength="589" lengthAdjust="spacing">haberse despejado como fuente de</text>
<text x="2833" y="4623" textLength="589" lengthAdjust="spacing">preocupación empresarial. Así, la</text>
</g>
</svg>
</body></html>
